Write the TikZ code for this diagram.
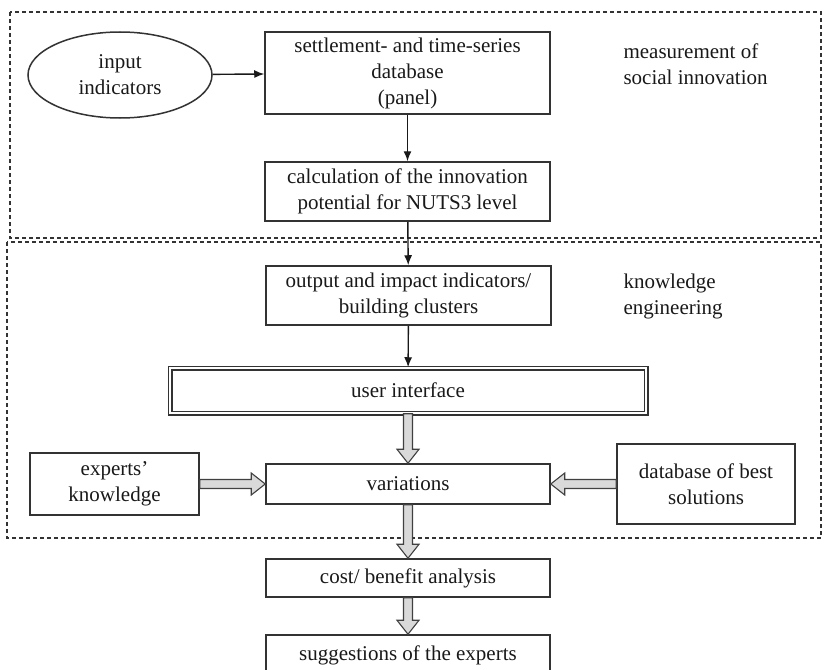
\documentclass[tikz,border=0pt]{standalone}
\usepackage{fontspec}
\setmainfont{Liberation Serif}
\usepackage{tikz}
\usetikzlibrary{arrows.meta,shapes.geometric,calc}

% wide grey arrows between the lower boxes
\newcommand{\blockdown}[2]{%
  \draw[blockarrow] let \p1=(#1), \p2=(#2) in
    (\x1-4.5pt,\y1) -- (\x1-4.5pt,\y2+14pt) -- (\x1-11pt,\y2+14pt) -- (\x1,\y2)
    -- (\x1+11pt,\y2+14pt) -- (\x1+4.5pt,\y2+14pt) -- (\x1+4.5pt,\y1) -- cycle;}
\newcommand{\blockright}[2]{%
  \draw[blockarrow] let \p1=(#1), \p2=(#2) in
    (\x1,\y1+4.5pt) -- (\x2-14pt,\y1+4.5pt) -- (\x2-14pt,\y1+11pt) -- (\x2,\y1)
    -- (\x2-14pt,\y1-11pt) -- (\x2-14pt,\y1-4.5pt) -- (\x1,\y1-4.5pt) -- cycle;}
\newcommand{\blockleft}[2]{%
  \draw[blockarrow] let \p1=(#1), \p2=(#2) in
    (\x1,\y1+4.5pt) -- (\x2+14pt,\y1+4.5pt) -- (\x2+14pt,\y1+11pt) -- (\x2,\y1)
    -- (\x2+14pt,\y1-11pt) -- (\x2+14pt,\y1-4.5pt) -- (\x1,\y1-4.5pt) -- cycle;}

\begin{document}
\begin{tikzpicture}[x=1pt, y=-1pt,
    every node/.style={font=\fontsize{21}{26}\selectfont, text=black!90},
    box/.style={draw=black!80, line width=1.5pt, fill=white, align=center, inner sep=0pt},
    region/.style={draw=black!80, dash pattern=on 4pt off 3pt, line width=1.1pt},
    flow/.style={draw=black!90, line width=1.4pt, -{Latex[length=10pt, width=8pt]}},
    blockarrow/.style={draw=black!75, line width=1.1pt, fill=gray!30}]
    \useasboundingbox (0,0) rectangle (824,669);

    % the two dashed regions
    \draw[region] (10,12) rectangle (821,238);
    \draw[region] (7,242) rectangle (821,538);

    \node[box, ellipse, minimum width=184, minimum height=86] (input) at (120,75) {input\\indicators};
    \node[box, minimum width=285, minimum height=82] (panel) at (407.5,73) {settlement- and time-series\\database\\(panel)};
    \node[box, minimum width=285, minimum height=59] (calc) at (407.5,191.5) {calculation of the innovation\\potential for NUTS3 level};
    \node[anchor=west, align=left] (measure) at (620,64) {measurement of\\social innovation};

    \node[box, minimum width=285, minimum height=59] (output) at (408.5,295.5) {output and impact indicators/\\building clusters};
    \node[anchor=west, align=left] (knowledge) at (620,296) {knowledge\\engineering};
    \node[box, double, double distance=2pt, minimum width=476, minimum height=45] (ui) at (408,390.5) {user interface};
    \node[box, minimum width=284, minimum height=40] (var) at (408,484) {variations};
    \node[box, minimum width=169, minimum height=62] (experts) at (114.5,484) {experts'\\knowledge};
    \node[box, minimum width=178, minimum height=80] (best) at (706,484) {database of best\\solutions};

    \node[box, minimum width=284, minimum height=38] (cost) at (408,578) {cost/ benefit analysis};
    \node[box, minimum width=284, minimum height=40] (sugg) at (408,655) {suggestions of the experts};

    \draw[flow] (input) -- (panel);
    \draw[flow] (panel) -- (calc);
    \draw[flow] (calc) -- (output);
    \draw[flow] (output) -- (ui);

    \blockdown{ui.south}{var.north}
    \blockright{experts.east}{var.west}
    \blockleft{best.west}{var.east}
    \blockdown{var.south}{cost.north}
    \blockdown{cost.south}{sugg.north}
\end{tikzpicture}
\end{document}
